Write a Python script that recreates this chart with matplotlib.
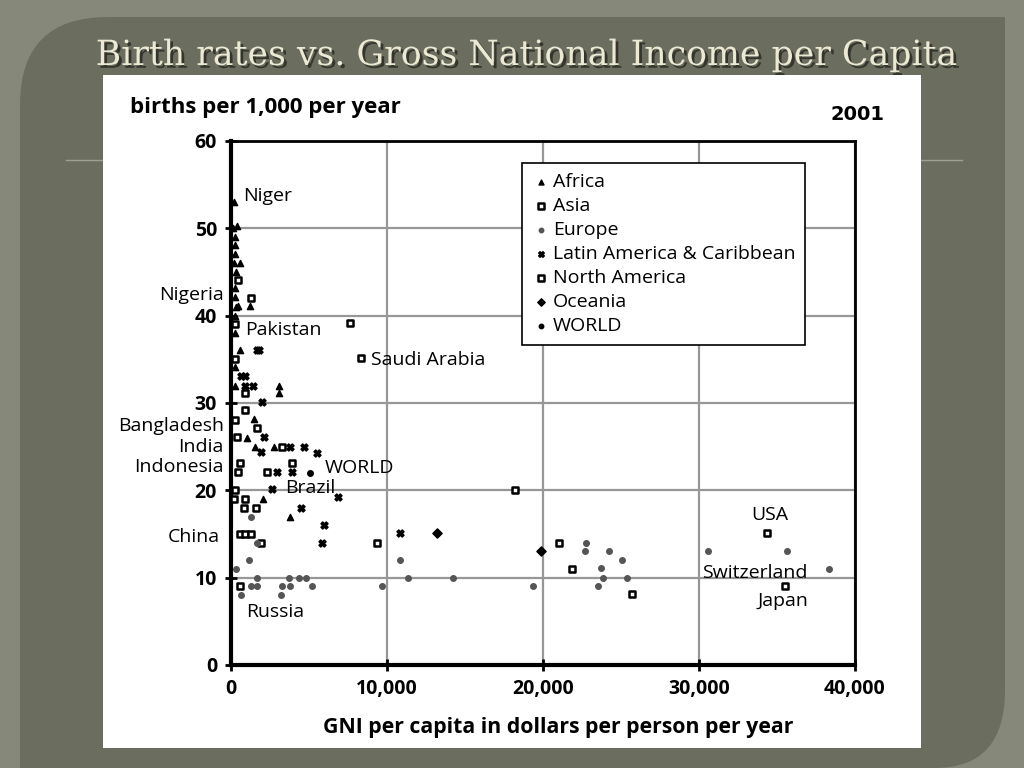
import numpy as np
import matplotlib.pyplot as plt
import matplotlib.patheffects as pe
from matplotlib.path import Path
from matplotlib.patches import PathPatch, Rectangle

# data (GNI $ per person, births per 1,000)
africa_x = [190, 130, 380, 250, 250, 250, 580, 200, 300, 250, 250, 450, 1220, 290, 230, 260,
            580, 260, 260, 3080, 3080, 1480, 1030, 1540, 2760, 2050, 3780]
africa_y = [53, 50, 50.3, 49, 48.1, 47.1, 46, 46, 45, 43.2, 42.1, 41.1, 41.1, 41, 40, 38,
            36.1, 34.1, 32, 32, 31.1, 28.2, 26, 25, 25, 19, 17]

asia_x = [450, 1280, 7630, 260, 8330, 260, 900, 900, 260, 1670, 380, 3270, 580, 3910, 450,
          2310, 260, 18200, 190, 900, 830, 1600, 580, 900, 1280, 1930, 9360, 21020, 25700,
          580, 35510]
asia_y = [44.1, 42, 39.2, 39, 35.2, 35, 31.1, 29.2, 28, 27.1, 26.1, 25, 23.1, 23.1, 22.1,
          22.1, 20, 20, 19, 19, 18, 18, 15, 15, 15, 14, 14, 14, 8.1,
          9, 9]

europe_x = [1280, 1150, 320, 1670, 3720, 4360, 4810, 1280, 1670, 3270, 3780, 5190, 640, 3200,
            1670, 10830, 11350, 9680, 14230, 19360, 22760, 22690, 24230, 25060, 23720, 23850,
            23530, 25380, 30570, 35640, 38330]
europe_y = [17, 12, 11, 10, 10, 10, 10, 9, 9, 9, 9, 9, 8, 8,
            14, 12, 10, 9, 10, 9, 14, 13, 13, 12, 11.1, 10,
            9, 10, 13, 13, 11]

latam_x = [1670, 1800, 640, 900, 900, 1410, 1990, 2110, 1930, 3780, 4680, 5510, 2950, 3910,
           2630, 6860, 4490, 5960, 5830, 10830]
latam_y = [36.1, 36.1, 33.1, 33.1, 32, 32, 30.1, 26.1, 24.4, 25, 25, 24.3, 22.1, 22.1,
           20.1, 19.2, 18, 16, 14, 15.1]

namerica_x = [34360, 21860]
namerica_y = [15.1, 11]

oceania_x = [13200, 19870]
oceania_y = [15.1, 13]

world_x = [5060]
world_y = [22]

legend_labels = ["Africa", "Asia", "Europe", "Latin America & Caribbean",
                 "North America", "Oceania", "WORLD"]

# country labels: text, x, y, alignment
labels = [("Niger", 770, 53.7, "left"), ("Nigeria", -450, 42.4, "right"),
          ("Pakistan", 900, 38.4, "left"), ("Saudi Arabia", 8970, 34.9, "left"),
          ("Bangladesh", -450, 27.4, "right"), ("India", -450, 25.0, "right"),
          ("Indonesia", -450, 22.7, "right"), ("WORLD", 6030, 22.6, "left"),
          ("Brazil", 3460, 20.3, "left"), ("China", -700, 14.7, "right"),
          ("Russia", 960, 6.1, "left"), ("USA", 34550, 17.2, "center"),
          ("Switzerland", 30200, 10.5, "left"), ("Japan", 33780, 7.3, "left")]

W, H = 1024, 768
fig = plt.figure(figsize=(10.24, 7.68), dpi=100)
fig.patch.set_facecolor('#86887a')


def fp(px, py):
    return (px / W, 1 - py / H)


# slide panel with rounded corners
verts = [fp(20, 768), fp(20, 105), fp(20, 17), fp(108, 17), fp(1005, 17), fp(1005, 690),
         fp(1005, 768), fp(935, 768), fp(20, 768)]
codes = [Path.MOVETO, Path.LINETO, Path.CURVE3, Path.CURVE3, Path.LINETO, Path.LINETO,
         Path.CURVE3, Path.CURVE3, Path.CLOSEPOLY]
fig.patches.append(PathPatch(Path(verts, codes), transform=fig.transFigure,
                             facecolor='#6b6d5f', edgecolor='none', zorder=-3))
fig.lines.append(plt.Line2D([66 / W, 962 / W], [1 - 160 / H] * 2, transform=fig.transFigure,
                            color='#9fa190', lw=1, zorder=-2))

# title with drop shadow
fig.text(527 / W, 1 - 55 / H, "Birth rates vs. Gross National Income per Capita",
         ha='center', va='center', fontsize=25, family='DejaVu Serif', color='#ebe8d3',
         path_effects=[pe.SimplePatchShadow(offset=(2, -2), shadow_rgbFace='#2e2f28',
                                            alpha=0.9), pe.Normal()])

# white picture area
fig.patches.append(Rectangle(fp(103, 748), 818 / W, 673 / H, transform=fig.transFigure,
                             facecolor='white', edgecolor='none', zorder=-1))

ax = fig.add_axes([231 / W, 1 - 665 / H, 624 / W, 524 / H])
ax.patch.set_alpha(0)
ax.set_xlim(0, 40000)
ax.set_ylim(0, 60)
ax.set_xticks([0, 10000, 20000, 30000, 40000])
ax.set_xticklabels(['0', '10,000', '20,000', '30,000', '40,000'])
ax.set_yticks([0, 10, 20, 30, 40, 50, 60])
ax.grid(color='#979797', lw=1.6)
ax.set_axisbelow(True)
for s in ax.spines.values():
    s.set_linewidth(2)
ax.spines['left'].set_linewidth(3)
ax.spines['bottom'].set_linewidth(3)
ax.tick_params(direction='inout', length=8, width=2, labelsize=14, pad=6)
for t in ax.get_xticklabels() + ax.get_yticklabels():
    t.set_fontweight('bold')
    t.set_family('Open Sans')

ax.scatter(africa_x, africa_y, marker='^', s=20, color='black', label=legend_labels[0],
           zorder=3, clip_on=False)
ax.scatter(asia_x, asia_y, marker='s', s=24, facecolor='white', edgecolor='black',
           linewidths=1.8, label=legend_labels[1], zorder=3)
ax.scatter(europe_x, europe_y, marker='o', s=16, color='#555555', label=legend_labels[2],
           zorder=3)
ax.scatter(latam_x, latam_y, marker='X', s=26, color='black', label=legend_labels[3],
           zorder=3)
ax.scatter(namerica_x, namerica_y, marker='s', s=24, facecolor='white', edgecolor='black',
           linewidths=1.8, label=legend_labels[4], zorder=3)
ax.scatter(oceania_x, oceania_y, marker='D', s=22, color='black', label=legend_labels[5],
           zorder=3)
ax.scatter(world_x, world_y, marker='o', s=16, color='black', label=legend_labels[6],
           zorder=3)

for txt, x, y, ha in labels:
    ax.text(x, y, txt, ha=ha, va='center', fontsize=14, family='Open Sans',
            clip_on=False, zorder=4)

leg = ax.legend(loc='upper left', bbox_to_anchor=(0.466, 0.958), borderaxespad=0,
                fancybox=False, framealpha=1, edgecolor='black',
                prop={'family': 'Open Sans', 'size': 14}, handletextpad=0.1,
                labelspacing=0.31, borderpad=0.5, handlelength=1.0, markerscale=0.8)
leg.get_frame().set_linewidth(1.2)

fig.text(130 / W, 1 - 108 / H, "births per 1,000 per year", ha='left', va='center',
         fontsize=16, fontweight='bold', family='Open Sans')
fig.text(857 / W, 1 - 115 / H, "2001", ha='center', va='center',
         fontsize=14, fontweight='bold', family='DejaVu Sans')
fig.text(558 / W, 1 - 727 / H, "GNI per capita in dollars per person per year", ha='center',
         va='center', fontsize=15.3, fontweight='bold', family='Open Sans')

fig.savefig('out.png', dpi=100)
